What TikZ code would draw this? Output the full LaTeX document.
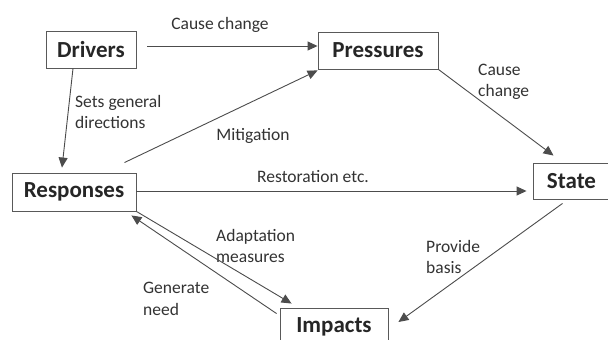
\documentclass[tikz,border=0pt]{standalone}
\usepackage{fontspec}
\setmainfont{Carlito}
\usetikzlibrary{arrows.meta}

\begin{document}
\begin{tikzpicture}[x=1pt, y=-1pt, >={Triangle[length=10pt,width=9pt]}]
	\tikzstyle{every node} = [inner sep=0pt]
	\tikzstyle{box} = [rectangle, draw=black!65, line width=0.9pt, font=\fontsize{23}{26}\selectfont\bfseries, text=black!85]
	\tikzstyle{lbl} = [font=\fontsize{17.5}{21.5}\selectfont, text=black!80, align=left]
	\tikzstyle{link} = [->, draw=black!70, line width=0.9pt]
	\fill[white] (0,0) rectangle (608,340);
	\useasboundingbox (0,0) rectangle (608,340);
	% boxes
	\node[box, minimum width=90pt,  minimum height=37pt] (drivers)   at (91,49.5)   {Drivers};
	\node[box, minimum width=120pt, minimum height=37pt] (pressures) at (378,50.5)  {Pressures};
	\node[box, minimum width=124pt, minimum height=38pt] (responses) at (74,192)    {Responses};
	\node[box, minimum width=77pt,  minimum height=36pt] (state)     at (571.5,181) {State};
	\node[box, minimum width=108pt, minimum height=38pt] (impacts)   at (334,327)   {Impacts};
	% labels
	\node[lbl]             (causeA)  at (220,25)  {Cause change};
	\node[lbl, anchor=west] (sets)   at (75,112)  {Sets general\\directions};
	\node[lbl]             (mitig)   at (253,136) {Mitigation};
	\node[lbl, anchor=west] (causeB) at (478,82)  {Cause\\change};
	\node[lbl]             (restor)  at (313,177) {Restoration etc.};
	\node[lbl, anchor=west] (adapt)  at (216,246) {Adaptation\\measures};
	\node[lbl, anchor=west] (gener)  at (143,299) {Generate\\need};
	\node[lbl, anchor=west] (provid) at (426,257) {Provide\\basis};
	% connectors
	\draw[link] ([shift={(11pt,3.5pt)}]drivers.east) -- ([yshift=4.5pt]pressures.west);
	\draw[link] ([xshift=-18pt]drivers.south) -- ([shift={(-12pt,5pt)}]responses.north);
	\draw[link] ([shift={(-12pt,10pt)}]responses.north east) -- ([yshift=-1pt]pressures.south west);
	\draw[link] (pressures.south east) -- ([shift={(-18pt,7pt)}]state.north);
	\draw[link] ([yshift=1pt]responses.east) -- ([shift={(-6pt,1pt)}]state.west |- responses.east);
	\draw[link] ([shift={(-9pt,-4pt)}]state.south) -- ([shift={(10pt,5pt)}]impacts.east);
	\draw[link] (responses.south east) -- ([shift={(12pt,4pt)}]impacts.north west);
	\draw[link] ([shift={(-3pt,-6pt)}]impacts.north west) -- ([shift={(-5pt,-4pt)}]responses.south east);
\end{tikzpicture}
\end{document}
